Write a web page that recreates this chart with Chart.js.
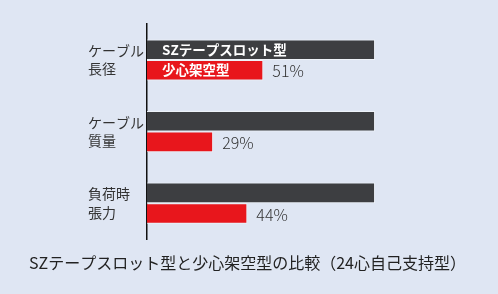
<!DOCTYPE html>
<html>
<head>
<meta charset="utf-8">
<script src="https://cdn.jsdelivr.net/npm/chart.js@4/dist/chart.umd.min.js"></script>
<style>
html,body{margin:0;padding:0;background:#dfe6f3;}
#wrap{width:498px;height:294px;position:relative;}
</style>
</head>
<body>
<div id="wrap"><canvas id="c" width="498" height="294"></canvas></div>
<script>
const categories = [["ケーブル","長径"],["ケーブル","質量"],["負荷時","張力"]];
const seriesNames = ["SZテープスロット型","少心架空型"];
const szValues = [100,100,100];
const smallValues = [51,29,44];
const valueLabels = ["51%","29%","44%"];
const chartTitle = "SZテープスロット型と少心架空型の比較（24心自己支持型）";

const JP = "'Noto Sans CJK JP','Noto Sans',sans-serif";

const labelPlugin = {
  id: 'labelPlugin',
  afterDatasetsDraw(chart){
    const ctx = chart.ctx;
    ctx.save();
    chart.data.datasets.forEach((ds, di) => {
      const meta = chart.getDatasetMeta(di);
      const bar = meta.data[0];
      ctx.font = "bold 13.5px " + JP;
      ctx.fillStyle = "#ffffff";
      ctx.textAlign = "left";
      ctx.textBaseline = "middle";
      ctx.fillText(ds.label, bar.base + 15, bar.y);
    });
    const meta1 = chart.getDatasetMeta(1);
    meta1.data.forEach((bar, i) => {
      ctx.font = "300 16px " + JP;
      ctx.fillStyle = "#333333";
      ctx.textAlign = "left";
      ctx.textBaseline = "middle";
      ctx.fillText(valueLabels[i], bar.x + 9, bar.y + 1);
    });
    // chart caption, centred on the canvas below the plot
    ctx.font = "16px " + JP;
    ctx.fillStyle = "#222222";
    ctx.textAlign = "center";
    ctx.textBaseline = "middle";
    ctx.fillText(chartTitle, chart.width / 2 - 1.5, chart.chartArea.bottom + 24);
    ctx.restore();
  }
};

new Chart(document.getElementById('c'), {
  type: 'bar',
  data: {
    labels: categories,
    datasets: [
      {label: seriesNames[0], data: szValues, backgroundColor: '#3d3e41', borderColor: '#eef2f8', borderWidth: 1},
      {label: seriesNames[1], data: smallValues, backgroundColor: '#e8161c', borderColor: '#eef2f8', borderWidth: 1}
    ]
  },
  options: {
    indexAxis: 'y',
    responsive: false,
    animation: false,
    devicePixelRatio: 1,
    layout: {padding: {left: 88, right: 91, top: 20, bottom: 55}},
    categoryPercentage: 0.575,
    barPercentage: 1.0,
    scales: {
      x: {display: false, min: 0, max: 114},
      y: {
        grid: {display: false, drawTicks: false},
        border: {display: true, color: '#111111', width: 1.5},
        afterFit(scale){ scale.width = 59; },
        ticks: {
          crossAlign: 'far',
          color: '#333333',
          padding: 6,
          font: {family: JP, size: 14, lineHeight: 1.3}
        }
      }
    },
    plugins: {
      legend: {display: false},
      tooltip: {enabled: false},
      title: {display: false}
    }
  },
  plugins: [labelPlugin]
});
</script>
</body>
</html>
